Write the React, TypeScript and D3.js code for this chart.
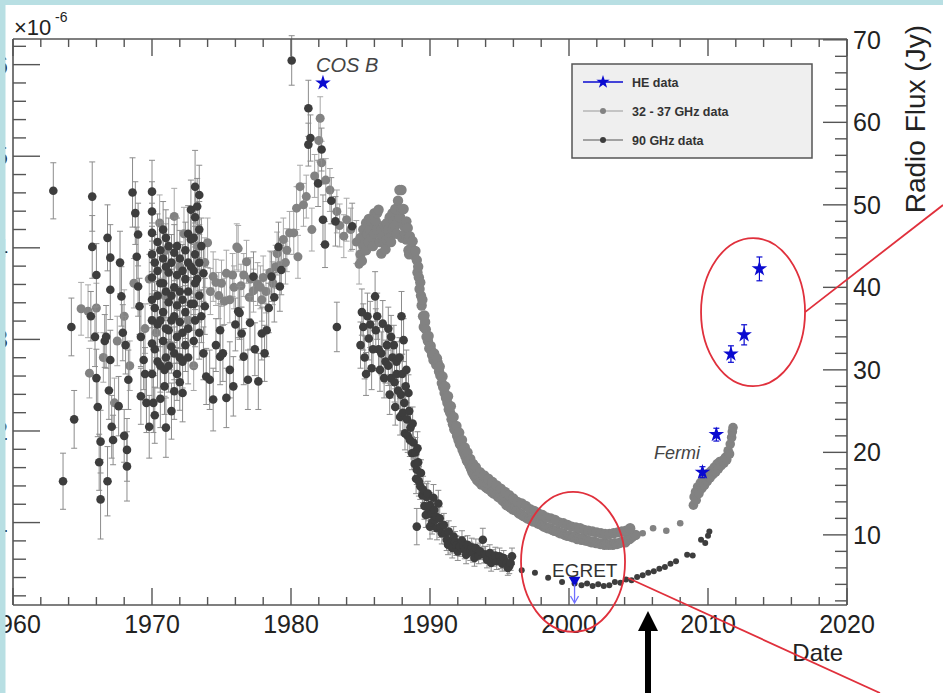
import React from "react";
import * as d3 from "d3";

type Pt = [number, number, number]; // year, flux (Jy), 1-sigma error (Jy)
type Dot = [number, number]; // year, flux (Jy)

// 90 GHz archival photometry, 1962-1985
const ghz90Archive: Pt[] = [
  [1962.9, 51.7, 3.4], [1963.6, 16.5, 3.4], [1964.2, 35.2, 3.5], [1964.4, 24.0, 3.5],
  [1965.6, 36.5, 3.0], [1965.7, 51.0, 4.2], [1965.7, 44.9, 3.8], [1965.9, 34.0, 3.6],
  [1966.0, 41.5, 3.8], [1966.0, 29.0, 3.5], [1966.1, 25.5, 3.6], [1966.2, 18.8, 3.4],
  [1966.3, 21.3, 3.8], [1966.3, 14.3, 4.8], [1966.6, 33.5, 3.2], [1966.7, 34.0, 3.8],
  [1966.8, 46.0, 4.0], [1966.8, 16.5, 4.2], [1966.9, 27.5, 3.5], [1967.0, 43.6, 4.0],
  [1967.0, 39.7, 3.6], [1967.0, 31.2, 3.6], [1967.1, 23.1, 3.8], [1967.2, 21.5, 3.0],
  [1967.6, 25.6, 3.6], [1967.7, 43.0, 3.8], [1967.8, 38.9, 3.6], [1967.9, 34.5, 3.4],
  [1968.0, 22.0, 3.2], [1968.1, 33.0, 3.5], [1968.2, 20.3, 3.8], [1968.2, 18.3, 4.2],
  [1968.3, 28.8, 3.6], [1968.6, 51.5, 4.2], [1968.8, 49.0, 3.8], [1968.9, 43.7, 3.6],
  [1969.0, 46.4, 3.8], [1969.0, 40.1, 3.6], [1969.1, 37.7, 3.4], [1969.2, 34.0, 3.6],
  [1969.2, 26.8, 3.4], [1969.4, 31.2, 3.6], [1969.5, 29.5, 3.2], [1969.6, 26.0, 3.6],
  [1969.8, 23.1, 3.8],
  [1970.0, 51.6, 3.8], [1970.0, 49.2, 3.6], [1970.0, 46.6, 3.6], [1970.0, 44.0, 3.4],
  [1970.0, 41.2, 3.4], [1970.0, 38.5, 3.4], [1970.0, 36.0, 3.2], [1970.0, 33.2, 3.2],
  [1970.0, 29.5, 3.4], [1970.1, 26.0, 3.6], [1970.2, 24.5, 3.4],
  [1970.2, 43.0, 3.4], [1970.2, 37.5, 3.2], [1970.2, 32.5, 3.2],
  [1970.4, 45.5, 3.4], [1970.4, 42.0, 3.4], [1970.4, 39.0, 3.2], [1970.4, 35.5, 3.2],
  [1970.4, 31.0, 3.2], [1970.6, 26.5, 3.5],
  [1970.6, 44.5, 3.4], [1970.6, 40.5, 3.2], [1970.6, 36.0, 3.2], [1970.6, 30.5, 3.2],
  [1970.8, 47.0, 3.4], [1970.8, 43.5, 3.4], [1970.8, 40.5, 3.2], [1970.8, 37.0, 3.2],
  [1970.8, 33.5, 3.2], [1970.9, 30.0, 3.2], [1970.9, 28.0, 3.4], [1971.0, 23.0, 3.6],
  [1971.0, 46.0, 3.4], [1971.0, 42.5, 3.2], [1971.0, 39.5, 3.2], [1971.0, 35.0, 3.2],
  [1971.0, 31.5, 3.2],
  [1971.2, 45.0, 3.4], [1971.2, 41.8, 3.2], [1971.2, 38.2, 3.2], [1971.2, 34.8, 3.2],
  [1971.2, 30.5, 3.2], [1971.4, 25.0, 3.4],
  [1971.4, 43.0, 3.4], [1971.4, 39.0, 3.2], [1971.4, 36.0, 3.2], [1971.4, 32.8, 3.2],
  [1971.6, 44.2, 3.4], [1971.6, 40.0, 3.2], [1971.6, 36.5, 3.2], [1971.6, 32.0, 3.2],
  [1971.6, 27.4, 3.4],
  [1971.8, 45.0, 3.4], [1971.8, 41.5, 3.2], [1971.8, 37.8, 3.2], [1971.8, 34.0, 3.2],
  [1971.8, 29.5, 3.2],
  [1972.0, 43.5, 3.4], [1972.0, 39.5, 3.2], [1972.0, 35.8, 3.2], [1972.0, 31.5, 3.2],
  [1972.0, 28.5, 3.4], [1972.2, 27.2, 3.5],
  [1972.2, 42.0, 3.2], [1972.2, 38.5, 3.2], [1972.2, 34.5, 3.2], [1972.2, 31.0, 3.2],
  [1972.4, 44.5, 3.4], [1972.4, 41.0, 3.2], [1972.4, 37.0, 3.2], [1972.4, 33.0, 3.2],
  [1972.6, 46.5, 3.4], [1972.6, 43.0, 3.2], [1972.6, 39.5, 3.2], [1972.6, 35.0, 3.2],
  [1972.6, 31.5, 3.2],
  [1972.8, 49.4, 3.6], [1972.8, 45.8, 3.4], [1972.8, 42.5, 3.2], [1972.8, 38.0, 3.2],
  [1973.0, 46.0, 3.4], [1973.0, 42.0, 3.2], [1973.0, 38.0, 3.2], [1973.0, 33.5, 3.2],
  [1973.1, 52.2, 4.4], [1973.1, 48.5, 3.6], [1973.1, 44.0, 3.4], [1973.1, 40.5, 3.2],
  [1973.1, 36.0, 3.2],
  [1973.25, 49.8, 3.4], [1973.25, 41.0, 3.2],
  [1973.4, 51.2, 3.6], [1973.4, 47.0, 3.4], [1973.4, 43.0, 3.4], [1973.4, 39.0, 3.2],
  [1973.4, 34.5, 3.2], [1973.55, 45.0, 3.4], [1973.55, 36.5, 3.2],
  [1973.7, 41.7, 3.4], [1973.8, 37.7, 3.4], [1973.7, 32.0, 3.2], [1973.9, 29.2, 3.4],
  [1974.15, 28.8, 3.6], [1974.4, 26.4, 3.8], [1974.6, 33.0, 3.2], [1974.9, 31.6, 3.4],
  [1974.9, 34.8, 3.2], [1975.1, 32.0, 3.4], [1975.35, 26.6, 3.6], [1975.6, 30.0, 3.4],
  [1975.85, 28.0, 3.6], [1976.0, 35.5, 3.2], [1976.2, 37.1, 3.2], [1976.3, 36.9, 3.2],
  [1976.45, 34.4, 3.2], [1976.6, 31.6, 3.4], [1976.9, 28.8, 3.6], [1977.05, 35.7, 3.2],
  [1977.3, 41.3, 3.0], [1977.4, 32.5, 3.2], [1977.65, 28.6, 3.4], [1977.9, 34.4, 3.2],
  [1978.1, 32.0, 3.4], [1978.25, 34.8, 3.2], [1978.4, 37.5, 3.0], [1978.6, 41.3, 3.0],
  [1978.8, 38.8, 3.0], [1979.1, 44.9, 3.0], [1979.2, 40.1, 3.0], [1979.3, 42.1, 3.0],
  [1980.05, 67.5, 3.0], [1981.25, 61.7, 3.4], [1981.4, 58.1, 2.8], [1981.25, 57.3, 2.6],
  [1982.2, 56.7, 2.6], [1981.95, 52.6, 2.8], [1982.3, 48.2, 3.0], [1982.45, 45.2, 2.8],
  [1982.9, 50.5, 2.8], [1983.2, 48.0, 3.0], [1984.4, 47.4, 2.8], [1983.3, 35.2, 3.0],
];

// 90 GHz monitoring through the fading phase, 1985-1996
const ghz90Decline: Pt[] = [
  [1985.0, 33.0, 2.8], [1985.1, 37.0, 2.8], [1985.2, 35.2, 2.8], [1985.3, 31.5, 2.6],
  [1985.4, 29.5, 2.6], [1985.5, 36.5, 2.8], [1985.6, 33.8, 2.6], [1985.7, 35.5, 2.8],
  [1985.8, 30.2, 2.6], [1985.9, 32.5, 2.6], [1986.05, 38.9, 3.0], [1986.1, 34.8, 2.6],
  [1986.2, 36.5, 2.8], [1986.3, 32.5, 2.6], [1986.4, 30.0, 2.6], [1986.5, 32.0, 2.6],
  [1986.6, 35.6, 2.8], [1986.7, 29.0, 2.4], [1986.8, 31.0, 2.6], [1986.9, 33.0, 2.4],
  [1987.0, 30.5, 2.4], [1987.0, 35.0, 2.6], [1987.1, 27.0, 2.4], [1987.2, 34.0, 2.6],
  [1987.2, 29.0, 2.4], [1987.3, 31.5, 2.4], [1987.4, 33.0, 2.4], [1987.45, 28.5, 2.4],
  [1987.5, 25.5, 2.2], [1987.6, 31.0, 2.4], [1987.6, 29.5, 2.4], [1987.7, 27.5, 2.2],
  [1987.8, 31.5, 2.4], [1987.85, 24.3, 2.2], [1987.9, 27.0, 2.2], [1987.95, 36.5, 3.0],
  [1988.0, 29.5, 2.4], [1988.05, 24.8, 2.2], [1988.1, 33.6, 2.6], [1988.15, 26.0, 2.2],
  [1988.2, 22.3, 2.0], [1988.25, 28.0, 2.2], [1988.3, 30.0, 2.4], [1988.35, 24.0, 2.0],
  [1988.4, 22.0, 2.0], [1988.45, 27.2, 2.2], [1988.5, 25.0, 2.0], [1988.55, 21.5, 2.0],
  [1988.6, 23.0, 2.0], [1988.7, 19.9, 2.0], [1988.75, 23.5, 2.0], [1988.8, 21.2, 2.0],
  [1988.9, 18.6, 1.8], [1988.95, 20.0, 1.8], [1989.0, 16.8, 1.8], [1989.05, 17.9, 1.8],
  [1989.1, 20.5, 2.0], [1989.15, 18.8, 1.8], [1989.2, 16.5, 1.8], [1989.3, 15.9, 1.6],
  [1989.35, 17.5, 1.6], [1989.05, 11.0, 2.2], [1989.45, 14.8, 1.6], [1989.5, 15.5, 1.6],
  [1989.6, 13.5, 1.6], [1989.7, 12.4, 1.5], [1989.75, 14.6, 1.6], [1989.85, 15.0, 1.5],
  [1989.9, 13.2, 1.5], [1990.0, 11.0, 1.5], [1990.0, 13.6, 1.5], [1990.1, 12.5, 1.5],
  [1990.15, 11.5, 1.4], [1990.25, 14.5, 1.6], [1990.3, 13.0, 1.4], [1990.35, 11.8, 1.4],
  [1990.45, 12.2, 1.4], [1990.5, 10.8, 1.4], [1990.6, 13.8, 1.6], [1990.7, 12.0, 1.4],
  [1990.75, 11.0, 1.3], [1990.85, 10.2, 1.3], [1991.0, 11.2, 1.4], [1991.1, 10.2, 1.3],
  [1991.2, 9.4, 1.3], [1991.3, 8.8, 1.2], [1991.35, 10.4, 1.3], [1991.5, 9.0, 1.2],
  [1991.6, 8.4, 1.2], [1991.7, 9.8, 1.2], [1991.8, 9.2, 1.2], [1991.9, 8.7, 1.2],
  [1992.0, 8.0, 1.1], [1992.15, 8.6, 1.2], [1992.3, 9.3, 1.2], [1992.4, 8.7, 1.1],
  [1992.5, 8.2, 1.1], [1992.6, 7.6, 1.1], [1992.7, 8.8, 1.1], [1992.9, 8.0, 1.1],
  [1993.0, 8.5, 1.1], [1993.1, 7.8, 1.1], [1993.2, 7.2, 1.0], [1993.3, 8.4, 1.1],
  [1993.5, 7.5, 1.0], [1993.6, 8.0, 1.0], [1993.8, 9.4, 1.4], [1993.9, 7.6, 1.0],
  [1994.0, 7.6, 1.0], [1994.1, 7.0, 1.0], [1994.3, 7.8, 1.0], [1994.4, 6.6, 1.0],
  [1994.55, 7.2, 1.0], [1994.7, 7.5, 1.0], [1994.8, 6.8, 1.0], [1995.0, 7.4, 1.0],
  [1995.1, 6.8, 0.9], [1995.2, 6.5, 0.9], [1995.3, 7.2, 0.9], [1995.5, 6.6, 0.9],
  [1995.6, 6.0, 0.9], [1995.7, 6.2, 0.9], [1995.8, 6.6, 0.9], [1995.9, 7.4, 1.0],
];

// 90 GHz, sparse recent sampling, 1996-2010
const ghz90Recent: Dot[] = [
  [1996.6, 5.7], [1997.55, 5.4], [1998.5, 4.8], [1999.5, 4.3], [2000.4, 4.1],
  [2000.9, 3.9], [2001.3, 4.1], [2001.7, 3.8], [2002.1, 4.0], [2002.5, 3.8],
  [2002.9, 3.9], [2003.3, 4.3], [2003.7, 4.2], [2004.1, 4.6], [2004.5, 4.5],
  [2004.9, 4.9], [2005.3, 5.1], [2005.7, 5.4], [2006.1, 5.6], [2006.5, 5.9],
  [2006.9, 6.1], [2007.3, 6.5], [2007.7, 6.8], [2008.5, 7.6], [2008.9, 7.5],
  [2009.5, 9.4], [2009.8, 9.0], [2010.0, 9.9], [2010.1, 10.4],
];

// 32-37 GHz archival photometry, 1964-1985
const ghz37Archive: Pt[] = [
  [1964.9, 37.4, 3.2], [1965.4, 37.1, 3.2], [1965.5, 29.6, 3.0], [1966.0, 37.5, 3.0],
  [1966.5, 31.5, 3.0], [1967.3, 26.0, 3.0], [1967.5, 33.5, 3.0], [1968.0, 36.5, 3.2],
  [1968.4, 30.5, 3.0], [1968.7, 40.5, 3.0], [1969.5, 35.0, 3.0], [1969.8, 41.0, 3.0],
  [1970.3, 34.5, 3.0], [1970.55, 47.8, 3.4], [1970.9, 39.0, 3.0], [1971.0, 44.5, 3.2],
  [1971.3, 33.0, 3.0], [1971.6, 48.6, 3.4], [1972.0, 42.5, 3.0], [1972.3, 46.5, 3.2],
  [1972.6, 36.0, 3.0], [1973.0, 30.5, 3.0], [1973.3, 45.0, 3.2], [1973.8, 43.0, 3.0],
  [1974.0, 45.4, 3.0], [1974.2, 39.5, 2.8], [1974.4, 41.3, 3.0], [1974.6, 40.6, 2.8],
  [1974.8, 39.0, 2.8], [1975.0, 40.5, 2.8], [1975.2, 38.3, 2.8], [1975.35, 41.7, 2.8],
  [1975.6, 38.5, 2.8], [1975.8, 41.5, 2.6], [1975.9, 40.0, 2.6], [1976.1, 44.9, 2.8],
  [1976.2, 44.7, 2.8], [1976.4, 40.2, 2.6], [1976.6, 41.5, 2.6], [1976.8, 43.1, 2.6],
  [1977.0, 38.8, 2.6], [1977.1, 41.0, 2.6], [1977.3, 39.6, 2.6], [1977.6, 40.4, 2.6],
  [1977.8, 40.0, 2.6], [1977.9, 38.5, 2.6], [1978.0, 41.2, 2.6], [1978.2, 39.5, 2.6],
  [1978.5, 41.8, 2.6], [1978.7, 40.5, 2.6], [1978.9, 42.5, 2.6], [1979.0, 44.1, 2.6],
  [1979.2, 42.6, 2.6], [1979.45, 45.8, 2.6], [1979.6, 43.0, 2.6], [1979.7, 44.5, 2.6],
  [1979.9, 46.6, 2.6], [1980.2, 46.6, 2.6], [1980.4, 49.6, 2.6], [1980.5, 43.7, 2.6],
  [1980.65, 52.2, 2.6], [1980.9, 50.0, 2.6], [1981.1, 51.0, 2.6], [1981.5, 47.0, 2.6],
  [1981.7, 53.5, 2.6], [1982.0, 57.8, 2.6], [1982.1, 60.5, 2.6], [1982.2, 55.1, 2.6],
  [1982.5, 53.0, 2.6], [1982.8, 51.8, 2.6], [1983.3, 49.2, 2.6], [1983.5, 47.5, 2.6],
  [1983.8, 46.2, 2.6], [1984.0, 48.2, 2.6], [1984.3, 47.0, 2.6], [1984.7, 45.5, 2.6],
  [1984.9, 42.8, 2.4],
];

// 32-37 GHz dense monitoring, 1985-2005
const ghz37Monitor: Dot[] = [
  [1985.0, 44.0], [1985.0, 46.0], [1985.1, 43.2], [1985.2, 45.0], [1985.2, 47.0],
  [1985.3, 46.0], [1985.4, 44.5], [1985.4, 47.8], [1985.5, 46.5], [1985.6, 45.5],
  [1985.6, 48.3], [1985.7, 47.0], [1985.8, 46.0], [1985.8, 48.0], [1985.9, 45.0],
  [1986.0, 46.5], [1986.0, 49.0], [1986.1, 48.0], [1986.2, 47.0], [1986.2, 49.0],
  [1986.3, 49.4], [1986.4, 45.5], [1986.5, 44.1], [1986.5, 47.0], [1986.6, 46.2],
  [1986.7, 45.5], [1986.7, 47.5], [1986.8, 44.6], [1986.9, 45.8], [1986.9, 47.8],
  [1987.0, 47.0], [1987.1, 46.0], [1987.1, 48.5], [1987.2, 45.5], [1987.3, 47.0],
  [1987.3, 49.0], [1987.4, 48.0], [1987.5, 47.5], [1987.5, 49.5], [1987.6, 46.5],
  [1987.7, 48.0], [1987.7, 50.5], [1987.8, 51.8], [1987.85, 48.5], [1987.95, 49.4],
  [1987.95, 51.8], [1988.0, 46.0], [1988.1, 47.5], [1988.1, 49.5], [1988.2, 46.5],
  [1988.3, 45.8], [1988.3, 48.0], [1988.4, 47.2], [1988.45, 46.0], [1988.45, 44.5],
  [1988.5, 44.0],
  [1988.55, 46.2], [1988.65, 44.8], [1988.75, 45.6], [1988.85, 43.9], [1988.95, 44.4],
  [1989.05, 43.3], [1989.1, 41.8], [1989.2, 41.2], [1989.25, 39.8], [1989.35, 39.0],
  [1989.4, 37.8], [1989.5, 36.5], [1989.55, 35.2], [1989.65, 35.8], [1989.75, 34.0],
  [1989.85, 33.5], [1989.95, 32.6], [1990.05, 32.9], [1990.15, 31.8], [1990.25, 31.2],
  [1990.35, 31.5], [1990.45, 30.6], [1990.55, 30.9], [1990.65, 29.8], [1990.75, 29.3],
  [1990.85, 28.4], [1990.95, 27.9], [1991.05, 27.2], [1991.15, 26.6], [1991.25, 26.0],
  [1991.35, 25.2], [1991.45, 24.8], [1991.55, 24.0], [1991.65, 23.4], [1991.75, 22.8],
  [1991.85, 22.6], [1991.95, 22.0], [1992.05, 21.5], [1992.15, 21.0], [1992.25, 20.8],
  [1992.35, 20.3], [1992.45, 19.9], [1992.55, 19.5], [1992.65, 19.0], [1992.75, 18.8],
  [1992.85, 18.4], [1992.95, 18.0], [1993.05, 17.6], [1993.15, 17.3], [1993.25, 17.0],
  [1989.15, 42.5], [1989.3, 40.6], [1989.45, 38.5], [1989.6, 36.6], [1989.7, 34.9],
  [1989.9, 34.1], [1990.1, 32.3], [1990.3, 32.0], [1990.5, 31.4], [1990.7, 30.4],
  [1990.9, 29.2], [1991.1, 28.0], [1991.3, 26.8], [1991.5, 25.6], [1991.7, 24.3],
  [1991.9, 23.2], [1992.1, 22.4], [1992.3, 21.5], [1992.5, 20.6], [1992.7, 20.0],
  [1992.9, 19.2], [1993.1, 18.6],
  [1993.4, 16.6], [1993.55, 16.4], [1993.7, 16.1], [1993.85, 16.2], [1994.0, 15.8],
  [1994.15, 15.6], [1994.3, 15.5], [1994.45, 15.2], [1994.6, 15.0], [1994.75, 14.9],
  [1994.9, 14.6], [1995.05, 14.5], [1995.2, 14.2], [1995.35, 14.0], [1995.5, 13.6],
  [1995.65, 13.5], [1995.8, 13.3], [1995.95, 13.1], [1996.1, 13.0], [1996.25, 12.9],
  [1996.4, 12.6], [1996.55, 12.5], [1996.7, 12.3], [1996.85, 12.2], [1997.0, 12.0],
  [1997.15, 11.9], [1997.3, 11.8], [1997.45, 11.6], [1997.6, 11.7], [1997.75, 11.4],
  [1997.9, 11.3], [1998.05, 11.2], [1998.2, 11.0], [1998.35, 10.9], [1998.5, 10.8],
  [1998.65, 10.8], [1998.8, 10.6], [1998.95, 10.5], [1999.1, 10.5], [1999.25, 10.3],
  [1999.4, 10.2], [1999.55, 10.2], [1999.7, 10.0], [1999.85, 9.9], [2000.0, 9.9],
  [2000.15, 9.8], [2000.3, 9.7], [2000.45, 9.8], [2000.6, 9.5], [2000.75, 9.6],
  [2000.9, 9.4], [2001.05, 9.5], [2001.2, 9.3], [2001.35, 9.3], [2001.5, 9.2],
  [2001.65, 9.1], [2001.8, 9.2], [2001.95, 9.0], [2002.1, 9.0], [2002.25, 8.9],
  [2002.4, 9.0], [2002.55, 8.8], [2002.7, 8.9], [2002.85, 8.8], [2003.0, 8.9],
  [2003.15, 8.8], [2003.3, 9.0], [2003.45, 8.9], [2003.6, 9.0], [2003.75, 9.1],
  [2003.9, 9.2], [2004.05, 9.1], [2004.2, 9.4], [2004.35, 9.5], [2004.5, 9.7],
  [2004.65, 9.9], [2004.8, 10.0],
  [1993.3, 18.2], [1993.6, 17.6], [1993.9, 17.2], [1994.2, 16.8], [1994.5, 16.4],
  [1994.8, 16.0], [1995.1, 15.6], [1995.4, 15.2], [1995.7, 14.8], [1996.0, 14.4],
  [1996.3, 14.0], [1996.6, 13.8], [1996.9, 13.5], [1997.2, 13.1], [1997.5, 12.9],
  [1997.8, 12.6], [1998.1, 12.4], [1998.4, 12.1], [1998.7, 12.0], [1999.0, 11.8],
  [1999.3, 11.5], [1999.6, 11.4], [1999.9, 11.2], [2000.2, 11.0], [2000.5, 10.9],
  [2000.8, 10.8], [2001.1, 10.6], [2001.4, 10.5], [2001.7, 10.4], [2002.0, 10.3],
  [2002.3, 10.2], [2002.6, 10.1], [2002.9, 10.1], [2003.2, 10.2], [2003.5, 10.3],
  [2003.8, 10.4], [2004.1, 10.5], [2004.4, 10.8],
];

// 32-37 GHz, sparse sampling 2005-2008
const ghz37Recent: Dot[] = [
  [2005.3, 10.2], [2006.05, 10.8], [2007.0, 10.5], [2008.0, 11.4],
];

// 32-37 GHz, renewed activity 2009-2012
const ghz37Flare: Dot[] = [
  [2008.95, 13.6], [2009.0, 14.6], [2009.1, 15.2], [2009.15, 14.2], [2009.25, 15.8],
  [2009.35, 15.0], [2009.45, 16.3], [2009.55, 15.6], [2009.65, 16.8], [2009.75, 16.0],
  [2009.85, 17.2], [2009.95, 16.5], [2010.05, 17.5], [2010.15, 16.9], [2010.25, 17.8],
  [2010.35, 17.3], [2010.45, 18.2], [2010.55, 17.6], [2010.65, 18.6], [2010.75, 18.0],
  [2010.85, 18.9], [2010.95, 18.4], [2011.05, 19.0], [2011.15, 18.7], [2011.25, 19.4],
  [2011.35, 19.1], [2011.45, 20.2], [2011.55, 19.8], [2011.6, 21.0], [2011.7, 21.8],
  [2011.75, 22.5], [2011.8, 23.0],
];

// High-energy gamma-ray flux, in units of 1e-6 (left axis)
const heYears = [1982.3, 2009.6, 2010.6, 2011.65, 2012.6, 2013.7];
const heFlux = [5.8, 1.55, 1.96, 2.84, 3.05, 3.77];
const heErr = [0, 0.06, 0.07, 0.09, 0.11, 0.13];
// EGRET upper limit
const egretYear = 2000.4;
const egretFlux = 0.37;

const yearLabels = [1960, 1970, 1980, 1990, 2000, 2010, 2020];
const radioLabels = [10, 20, 30, 40, 50, 60, 70];
const heLabels = [1, 2, 3, 4, 5, 6];

const W = 943;
const H = 693;
const FONT = "'Liberation Sans', Arial, Helvetica, sans-serif";

const x = d3.scaleLinear().domain([1960, 2020]).range([13, 847]);
const yRadio = d3.scaleLinear().domain([1.5, 70.1]).range([605, 39]);
const yHE = d3.scaleLinear().domain([0.1, 6.28]).range([605, 39]);

const yearTicks = d3.range(1960, 2021, 2);
const radioTicks = d3.range(2, 71, 2);
const heTicks = d3.range(1, 32).map((i) => i * 0.2);

const AXIS = "#555";
const DARK = "#3d3d3d";
const LIGHT = "#828282";
const BLUE = "#0a0ad0";

const starPath = (size: number) => d3.symbol(d3.symbolStar, size)() as string;

function ErrorBars({ pts, color }: { pts: Pt[]; color: string }) {
  return (
    <g stroke={color} strokeWidth={1} fill="none">
      {pts.map(([yr, v, e], i) => {
        const cx = x(yr);
        const y1 = yRadio(v - e);
        const y2 = yRadio(v + e);
        return (
          <g key={i}>
            <line x1={cx} x2={cx} y1={y1} y2={y2} />
            <line x1={cx - 3} x2={cx + 3} y1={y1} y2={y1} />
            <line x1={cx - 3} x2={cx + 3} y1={y2} y2={y2} />
          </g>
        );
      })}
    </g>
  );
}

function Dots({ pts, color, r }: { pts: (Pt | Dot)[]; color: string; r: number }) {
  return (
    <g fill={color}>
      {pts.map((p, i) => (
        <circle key={i} cx={x(p[0])} cy={yRadio(p[1])} r={r} />
      ))}
    </g>
  );
}

export default function App() {
  const frameL = x(1960);
  const frameR = x(2020);
  const frameT = yRadio(70.1);
  const frameB = yRadio(1.5);

  const e1 = { cx: x(2013.24), cy: yRadio(37.0) };
  const e2 = { cx: x(2000.29), cy: yRadio(6.73) };

  return (
    <svg
      width={W}
      height={H}
      style={{ position: "absolute", left: 0, top: 0, display: "block" }}
      fontFamily={FONT}
    >
      <rect x={0} y={0} width={W} height={H} fill="#ffffff" />

      {/* 32-37 GHz series */}
      <ErrorBars pts={ghz37Archive} color="#a8a8a8" />
      <Dots pts={ghz37Archive} color={LIGHT} r={4.5} />
      <Dots pts={ghz37Monitor} color={LIGHT} r={5.2} />
      <Dots pts={ghz37Recent} color={LIGHT} r={3.3} />
      <Dots pts={ghz37Flare} color={LIGHT} r={4.8} />

      {/* 90 GHz series */}
      <ErrorBars pts={ghz90Archive} color="#8c8c8c" />
      <ErrorBars pts={ghz90Decline} color="#8c8c8c" />
      <Dots pts={ghz90Archive} color={DARK} r={4.3} />
      <Dots pts={ghz90Decline} color={DARK} r={4.3} />
      <Dots pts={ghz90Recent} color={DARK} r={3.0} />

      {/* high-energy points */}
      <g stroke={BLUE} strokeWidth={1.2}>
        {heYears.map((yr, i) =>
          heErr[i] > 0 ? (
            <g key={i}>
              <line x1={x(yr)} x2={x(yr)} y1={yHE(heFlux[i] - heErr[i])} y2={yHE(heFlux[i] + heErr[i])} />
              <line x1={x(yr) - 3} x2={x(yr) + 3} y1={yHE(heFlux[i] - heErr[i])} y2={yHE(heFlux[i] - heErr[i])} />
              <line x1={x(yr) - 3} x2={x(yr) + 3} y1={yHE(heFlux[i] + heErr[i])} y2={yHE(heFlux[i] + heErr[i])} />
            </g>
          ) : null
        )}
      </g>
      <g fill={BLUE}>
        {heYears.map((yr, i) => (
          <path key={i} d={starPath(75)} transform={`translate(${x(yr)},${yHE(heFlux[i])})`} />
        ))}
      </g>
      {/* EGRET upper limit */}
      <g>
        <path
          d={d3.symbol(d3.symbolTriangle, 60)() as string}
          transform={`translate(${x(egretYear)},${yHE(egretFlux)}) rotate(180)`}
          fill={BLUE}
        />
        <line
          x1={x(egretYear)}
          x2={x(egretYear)}
          y1={yHE(egretFlux) + 4}
          y2={frameB - 3}
          stroke="#7070ff"
          strokeWidth={1.3}
        />
        <path
          d={`M${x(egretYear) - 4},${frameB - 9} L${x(egretYear)},${frameB - 2} L${x(egretYear) + 4},${frameB - 9}`}
          stroke="#7070ff"
          strokeWidth={1.3}
          fill="none"
        />
      </g>

      {/* frame */}
      <g stroke={AXIS} strokeWidth={1.6} fill="none">
        <line x1={frameL} x2={frameR} y1={frameB} y2={frameB} />
        <line x1={frameL} x2={frameR} y1={frameT} y2={frameT} />
        <line x1={frameL} x2={frameL} y1={frameT} y2={frameB} />
        <line x1={frameR} x2={frameR} y1={frameT} y2={frameB} />
      </g>
      <g stroke={AXIS} strokeWidth={1.4}>
        {yearTicks.map((t) => {
          const major = t % 10 === 0;
          const len = major ? 17 : 8;
          return (
            <g key={t}>
              <line x1={x(t)} x2={x(t)} y1={frameB} y2={frameB - len} />
              <line x1={x(t)} x2={x(t)} y1={frameT} y2={frameT + len} />
            </g>
          );
        })}
        {heTicks.map((t) => {
          const major = Math.abs(t - Math.round(t)) < 1e-6;
          return (
            <line key={t} x1={frameL} x2={frameL + (major ? 27 : 13)} y1={yHE(t)} y2={yHE(t)} />
          );
        })}
        {radioTicks.map((t) => {
          const major = t % 10 === 0;
          return (
            <line key={t} x1={frameR} x2={frameR - (major ? 24 : 12)} y1={yRadio(t)} y2={yRadio(t)} />
          );
        })}
      </g>

      {/* tick labels */}
      <g fontSize={25} fill="#222">
        {yearLabels.map((t) => (
          <text key={t} x={x(t)} y={633} textAnchor="middle">
            {t}
          </text>
        ))}
        {radioLabels.map((t) => (
          <text key={t} x={frameR + 6} y={yRadio(t)} dy="0.36em" textAnchor="start">
            {t}
          </text>
        ))}
        {heLabels.map((t) => (
          <text key={t} x={8} y={yHE(t)} dy="0.36em" textAnchor="end">
            {t}
          </text>
        ))}
      </g>
      <text x={14} y={35} fontSize={22} fill="#222">
        ×10
      </text>
      <text x={55} y={22} fontSize={14} fill="#222">
        -6
      </text>
      <text x={843} y={661} fontSize={24} textAnchor="end" fill="#222">
        Date
      </text>
      <text transform="translate(925,25) rotate(-90)" fontSize={28} textAnchor="end" fill="#222">
        Radio Flux (Jy)
      </text>

      {/* instrument annotations */}
      <text x={316} y={72} fontSize={20} fontStyle="italic" fill="#444">
        COS B
      </text>
      <text x={654} y={459} fontSize={18} fontStyle="italic" fill="#444">
        Fermi
      </text>
      <text x={552} y={577} fontSize={19} fill="#333">
        EGRET
      </text>

      {/* legend */}
      <g>
        <rect x={572} y={64} width={240} height={94} fill="#efefef" stroke="#555" strokeWidth={1.5} />
        <line x1={583} x2={623} y1={82} y2={82} stroke={BLUE} strokeWidth={1.5} />
        <path d={starPath(55)} transform="translate(603,82)" fill={BLUE} />
        <line x1={583} x2={623} y1={111} y2={111} stroke="#9a9a9a" strokeWidth={1.2} />
        <circle cx={603} cy={111} r={3} fill={LIGHT} />
        <line x1={583} x2={623} y1={140} y2={140} stroke="#555" strokeWidth={1.2} />
        <circle cx={603} cy={140} r={3} fill={DARK} />
        <g fontSize={12.5} fontWeight="bold" fill="#333">
          <text x={632} y={82} dy="0.36em">HE data</text>
          <text x={632} y={111} dy="0.36em">32 - 37 GHz data</text>
          <text x={632} y={140} dy="0.36em">90 GHz data</text>
        </g>
      </g>

      {/* highlighted regions */}
      <g stroke="#e0303c" strokeWidth={1.8} fill="none">
        <ellipse cx={e1.cx} cy={e1.cy} rx={52} ry={74} />
        <ellipse cx={e2.cx} cy={e2.cy} rx={52} ry={70} />
        <line x1={e1.cx + 52} x2={W} y1={e1.cy} y2={205} />
        <line x1={628} x2={880} y1={578} y2={H} />
      </g>

      {/* epoch marker */}
      <g fill="#000">
        <rect x={645} y={628} width={6} height={H - 628} />
        <path d="M648,611 L658,631 L638,631 Z" />
      </g>

      {/* page border */}
      <rect x={0} y={0} width={W} height={5} fill="#b8dfe3" />
      <rect x={0} y={0} width={5.5} height={H} fill="#b8dfe3" />
    </svg>
  );
}
